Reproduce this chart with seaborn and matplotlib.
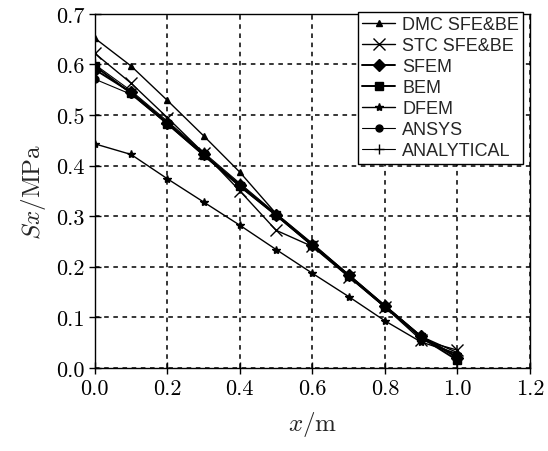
import pandas as pd
import matplotlib
matplotlib.use('Agg')
import matplotlib.pyplot as plt
import seaborn as sns

# distance along the beam (m)
x_m = [0.0, 0.1, 0.2, 0.3, 0.4, 0.5, 0.6, 0.7, 0.8, 0.9, 1.0]

# Sx (MPa) for each method
dmc = [0.652, 0.597, 0.529, 0.459, 0.387, 0.305, 0.246, 0.184, 0.123, 0.062, 0.030]
stc = [0.622, 0.563, 0.495, 0.425, 0.350, 0.272, 0.240, 0.180, 0.120, 0.055, 0.035]
sfem = [0.590, 0.545, 0.485, 0.423, 0.362, 0.303, 0.243, 0.183, 0.122, 0.062, 0.020]
bem = [0.597, 0.543, 0.483, 0.421, 0.360, 0.302, 0.242, 0.182, 0.121, 0.060, 0.015]
dfem = [0.443, 0.422, 0.374, 0.328, 0.282, 0.234, 0.187, 0.141, 0.093, 0.051, 0.028]
ansys = [0.571, 0.541, 0.482, 0.420, 0.358, 0.301, 0.241, 0.181, 0.120, 0.060, 0.025]
analytical = [0.600, 0.548, 0.488, 0.426, 0.365, 0.305, 0.245, 0.185, 0.124, 0.063, 0.022]

series = ['DMC SFE&BE', 'STC SFE&BE', 'SFEM', 'BEM', 'DFEM', 'ANSYS', 'ANALYTICAL']
values = [dmc, stc, sfem, bem, dfem, ansys, analytical]

sns.set_style('ticks')
plt.rcParams['font.family'] = ['cmr10']
plt.rcParams['mathtext.fontset'] = 'cm'
plt.rcParams['axes.formatter.use_mathtext'] = True

# marker, marker size, line width
styles = {
    'DMC SFE&BE': ('^', 5, 1.0),
    'STC SFE&BE': ('x', 8, 1.0),
    'SFEM': ('D', 6, 1.4),
    'BEM': ('s', 6, 1.4),
    'DFEM': ('*', 6, 1.0),
    'ANSYS': ('o', 5, 0.8),
    'ANALYTICAL': ('+', 7, 0.8),
}

fig = plt.figure(figsize=(5.48, 4.52), dpi=100)
ax = fig.add_axes([0.173, 0.184, 0.794, 0.783])

for name, vals in zip(series, values):
    df = pd.DataFrame({'x': x_m, 'Sx': vals})
    mk, ms, lw = styles[name]
    sns.lineplot(data=df, x='x', y='Sx', ax=ax, color='black', marker=mk,
                 markersize=ms, linewidth=lw, markeredgecolor='black',
                 markeredgewidth=1.0, label=name)

ax.set_xlim(0, 1.2)
ax.set_ylim(0, 0.7)
ax.set_xticks([0.0, 0.2, 0.4, 0.6, 0.8, 1.0, 1.2])
ax.set_yticks([0.0, 0.1, 0.2, 0.3, 0.4, 0.5, 0.6, 0.7])
ax.set_xticklabels(['0.0', '0.2', '0.4', '0.6', '0.8', '1.0', '1.2'])
ax.set_yticklabels(['0.0', '0.1', '0.2', '0.3', '0.4', '0.5', '0.6', '0.7'])
ax.tick_params(direction='inout', length=8, width=1, labelsize=16, colors='black')
ax.grid(True, color='black', linestyle=(0, (3, 3)), linewidth=1.1)
for s in ax.spines.values():
    s.set_color('black')
    s.set_linewidth(1.0)

ax.set_xlabel(r'$x/\mathrm{m}$', fontsize=18, labelpad=8)
ax.set_ylabel(r'$Sx/\mathrm{MPa}$', fontsize=18, labelpad=6)

leg = ax.legend(loc='upper right', bbox_to_anchor=(0.985, 1.006), frameon=True,
                fancybox=False, edgecolor='black', framealpha=1,
                prop={'family': 'Liberation Sans', 'size': 13},
                labelspacing=0.22, handlelength=1.8, handletextpad=0.4,
                borderpad=0.25, borderaxespad=0.0)
leg.get_frame().set_linewidth(1.0)

fig.savefig('out.png', dpi=100)
